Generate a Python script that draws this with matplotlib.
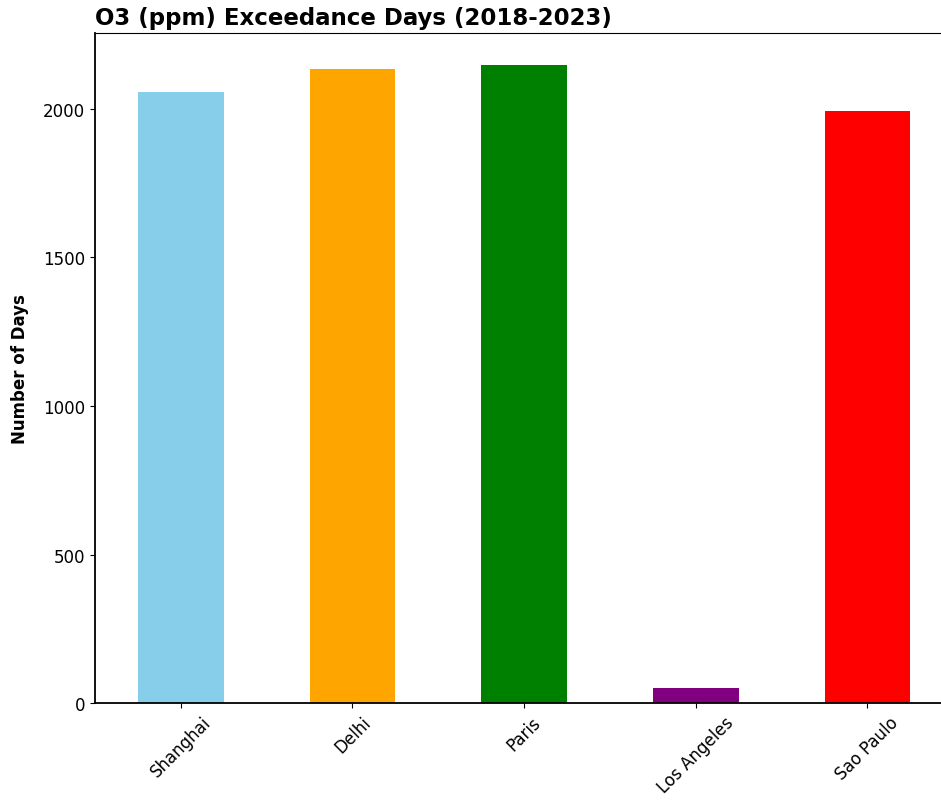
import matplotlib.pyplot as plt

cities = ["Shanghai", "Delhi", "Paris", "Los Angeles", "Sao Paulo"]
days = [2057, 2134, 2148, 50, 1992]
colors = ["skyblue", "orange", "green", "purple", "red"]

fig = plt.figure(figsize=(9.41, 8.03), dpi=100)
ax = fig.add_axes([0.101, 0.123, 0.912, 0.835])
x = list(range(len(cities)))
ax.bar(x, days, width=0.5, color=colors)
ax.set_xlim(-0.5, len(cities) - 0.5)
ax.set_ylim(0, max(days) * 1.05)
ax.set_xticks(x)
ax.set_xticklabels(cities, rotation=45, fontsize=12)
ax.tick_params(axis="y", labelsize=12)
ax.set_yticks([0, 500, 1000, 1500, 2000])
ax.set_ylabel("Number of Days", fontsize=12, fontweight="bold", labelpad=10)
ax.set_title("O3 (ppm) Exceedance Days (2018-2023)", fontsize=16.5,
             fontweight="bold", loc="left")
for side in ["left", "bottom"]:
    ax.spines[side].set_linewidth(1.3)
fig.savefig("out.png", dpi=100)
